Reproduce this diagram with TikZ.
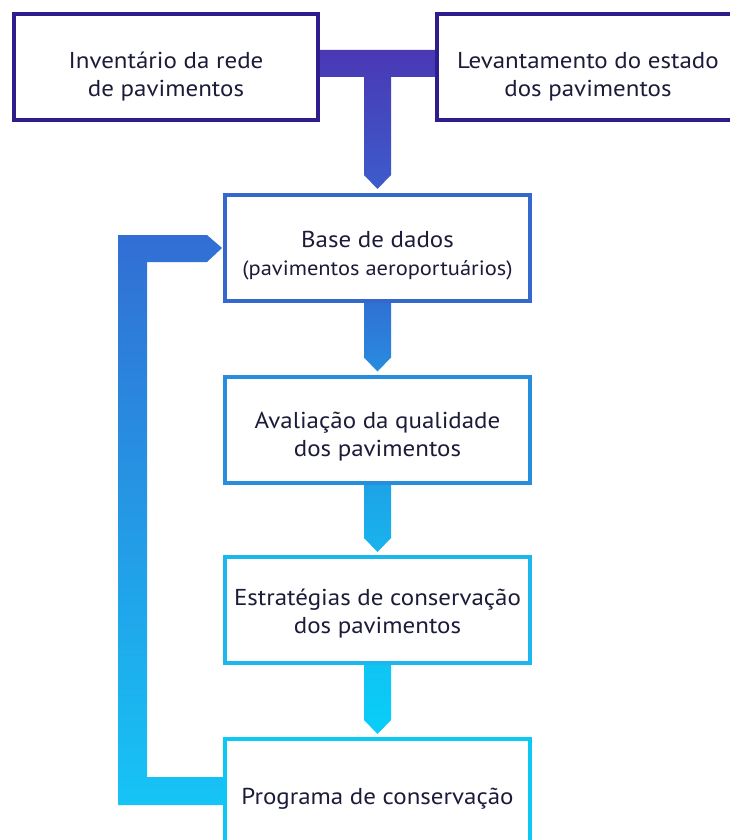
\documentclass[tikz,border=0pt]{standalone}
\usepackage{fontspec}
\setmainfont{PT Sans}[FakeStretch=1.085]
\usetikzlibrary{backgrounds,calc}
\definecolor{txt}{RGB}{28,28,58}
\definecolor{topc}{RGB}{45,30,140}
\definecolor{cbase}{RGB}{52,104,204}
\definecolor{caval}{RGB}{38,142,220}
\definecolor{cestr}{RGB}{28,183,236}
\definecolor{cprog}{RGB}{12,200,245}
\definecolor{tA}{RGB}{74,56,180}
\definecolor{tB}{RGB}{60,92,204}
\definecolor{aA}{RGB}{48,112,212}
\definecolor{aB}{RGB}{40,140,224}
\definecolor{bA}{RGB}{30,162,230}
\definecolor{bB}{RGB}{24,180,238}
\definecolor{dA}{RGB}{16,196,244}
\definecolor{dB}{RGB}{8,206,248}
\definecolor{fA}{RGB}{50,110,212}
\definecolor{fB}{RGB}{22,196,246}
\begin{document}
\begin{tikzpicture}[x=1pt,y=-1pt,
  box/.style={draw, line width=4pt, fill=white, minimum width=305pt,
    minimum height=106pt, inner sep=0pt},
  lbl/.style={align=center, text=txt, inner sep=0pt,
    font=\fontsize{23}{28}\selectfont}]
\useasboundingbox (0,0) rectangle (730,840);
\clip (0,0) rectangle (730,840);
\node[box, draw=topc, minimum width=304pt] (inv) at (166,67) {};
\node[box, draw=topc, minimum width=302pt] (lev) at (588,67) {};
\node[box, draw=cbase] (base) at (377.5,248) {};
\node[box, draw=caval] (aval) at (377.5,429.5) {};
\node[box, draw=cestr] (estr) at (377.5,610) {};
\node[box, draw=cprog, minimum height=112pt] (prog) at (377.5,795) {};
\node[lbl] (inv-t) at ($(inv.center)+(0,10)$) {Inventário da rede\\de pavimentos};
\node[lbl] (lev-t) at ($(lev.center)+(0,10)$) {Levantamento do estado\\dos pavimentos};
\node[lbl] (base-t) at ($(base.center)+(0,8)$) {Base de dados\\{\fontsize{20.7}{26}\selectfont(pavimentos aeroportuários)}};
\node[lbl] (aval-t) at ($(aval.center)+(0,7)$) {Avaliação da qualidade\\dos pavimentos};
\node[lbl] (estr-t) at ($(estr.center)+(0,4)$) {Estratégias de conservação\\dos pavimentos};
\node[lbl] (prog-t) at ($(prog.center)+(0,4)$) {Programa de conservação};
\begin{scope}[on background layer]
\shade[top color=tA,bottom color=tB] let \p1=(inv.east), \p2=(lev.west), \p3=(base.north) in
  (\x1-2pt,\y1+17pt) -- (\x2+2pt,\y1+17pt) -- (\x2+2pt,\y1-10pt) -- (\x3+13.5pt,\y1-10pt)
  -- (\x3+13.5pt,\y3+18pt) -- (\x3,\y3+4pt) -- (\x3-13.5pt,\y3+18pt) -- (\x3-13.5pt,\y1-10pt)
  -- (\x1-2pt,\y1-10pt) -- cycle;
\shade[top color=aA,bottom color=aB] let \p1=(base.south), \p2=(aval.north) in
  (\x1-13.5pt,\y1+2pt) -- (\x1+13.5pt,\y1+2pt) -- (\x1+13.5pt,\y2+17pt) -- (\x1,\y2+3pt)
  -- (\x1-13.5pt,\y2+17pt) -- cycle;
\shade[top color=bA,bottom color=bB] let \p1=(aval.south), \p2=(estr.north) in
  (\x1-13.5pt,\y1+2pt) -- (\x1+13.5pt,\y1+2pt) -- (\x1+13.5pt,\y2+17pt) -- (\x1,\y2+3pt)
  -- (\x1-13.5pt,\y2+17pt) -- cycle;
\shade[top color=dA,bottom color=dB] let \p1=(estr.south), \p2=(prog.north) in
  (\x1-13.5pt,\y1+2pt) -- (\x1+13.5pt,\y1+2pt) -- (\x1+13.5pt,\y2+17pt) -- (\x1,\y2+3pt)
  -- (\x1-13.5pt,\y2+17pt) -- cycle;
\shade[top color=fA,bottom color=fB] let \p1=(base.west), \p2=(prog.west) in
  (\x2+2pt,\y2+18pt) -- (\x1-76pt,\y2+18pt) -- (\x1-76pt,\y1-14pt) -- (\x1-16pt,\y1-14pt)
  -- (\x1-1pt,\y1) -- (\x1-16pt,\y1+13pt) -- (\x1-105pt,\y1+13pt) -- (\x1-105pt,\y2-10pt)
  -- (\x2+2pt,\y2-10pt) -- cycle;
\end{scope}
\end{tikzpicture}
\end{document}
